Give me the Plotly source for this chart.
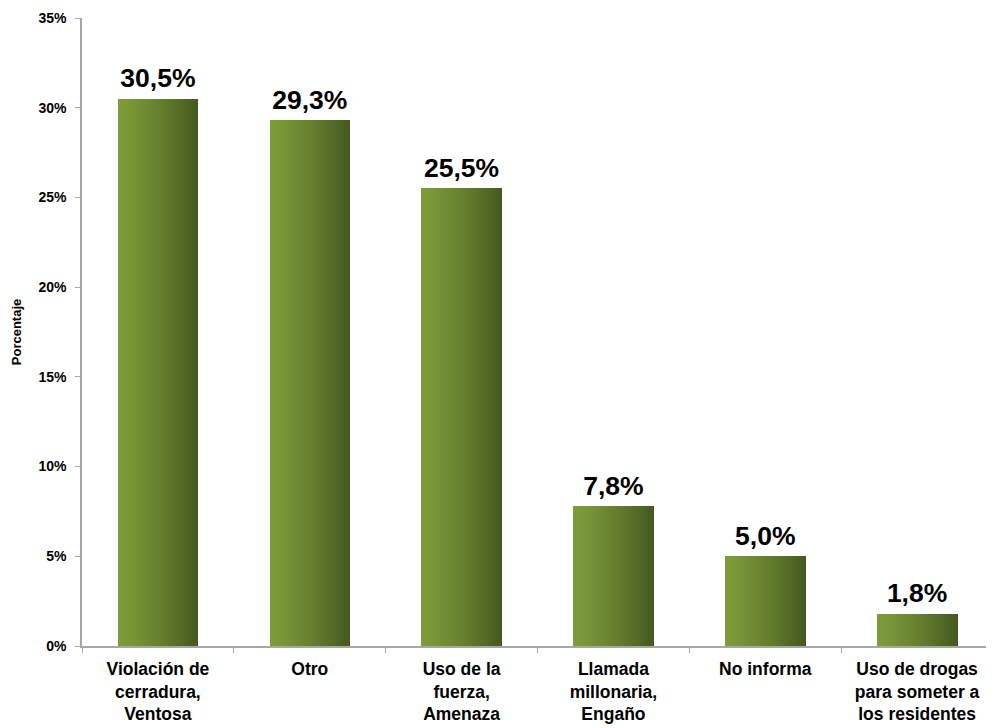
import plotly.graph_objects as go

categories = ["Violación de<br>cerradura,<br>Ventosa", "Otro", "Uso de la<br>fuerza,<br>Amenaza",
              "Llamada<br>millonaria,<br>Engaño", "No informa", "Uso de drogas<br>para someter a<br>los residentes"]
values = [30.5, 29.3, 25.5, 7.8, 5.0, 1.8]
labels = ["30,5%", "29,3%", "25,5%", "7,8%", "5,0%", "1,8%"]

FONT = "Liberation Sans, Arial"
fig = go.Figure()

# gradient bars emulated with narrow slices
N = 40
W = 0.53
c0 = (125, 155, 57)
c1 = (68, 90, 31)
for i in range(N):
    t = i / (N - 1)
    t2 = t ** 1.3
    col = tuple(round(c0[k] + (c1[k] - c0[k]) * t2) for k in range(3))
    fig.add_trace(go.Bar(
        x=categories, y=values,
        width=W / N + 0.002, offset=-W / 2 + i * W / N,
        marker=dict(color="rgb(%d,%d,%d)" % col, line=dict(width=0)),
        showlegend=False, hoverinfo="skip",
    ))

fig.add_trace(go.Scatter(
    x=categories, y=values, mode="markers+text", text=labels,
    marker=dict(size=6, opacity=0),
    textposition="top center",
    textfont=dict(family=FONT, size=26.5, color="black", weight="bold"),
    showlegend=False, cliponaxis=False, hoverinfo="skip",
))

fig.update_layout(
    width=986, height=720,
    margin=dict(l=74, r=1, t=10, b=82),
    plot_bgcolor="white", paper_bgcolor="white",
    barmode="overlay", bargap=0,
    font=dict(family=FONT, color="black"),
    xaxis=dict(
        type="category", showline=True, linecolor="#a6a6a6", linewidth=1.5,
        ticks="outside", tickson="boundaries", ticklen=5, tickcolor="#a6a6a6",
        tickfont=dict(size=17.5, family=FONT, weight="bold"),
        ticklabelstandoff=6, automargin=False,
        showgrid=False, zeroline=False,
    ),
    yaxis=dict(
        range=[0, 35], dtick=5, ticksuffix="%",
        showline=True, linecolor="#a6a6a6", linewidth=1.5,
        ticks="outside", ticklen=5, tickcolor="#a6a6a6",
        tickfont=dict(size=14, family=FONT, weight="bold"),
        ticklabelstandoff=6, automargin=False,
        showgrid=False, zeroline=False,
        title=dict(text="Porcentaje", font=dict(size=13, weight="bold"), standoff=14),
    ),
)

fig.write_html("out.html")
